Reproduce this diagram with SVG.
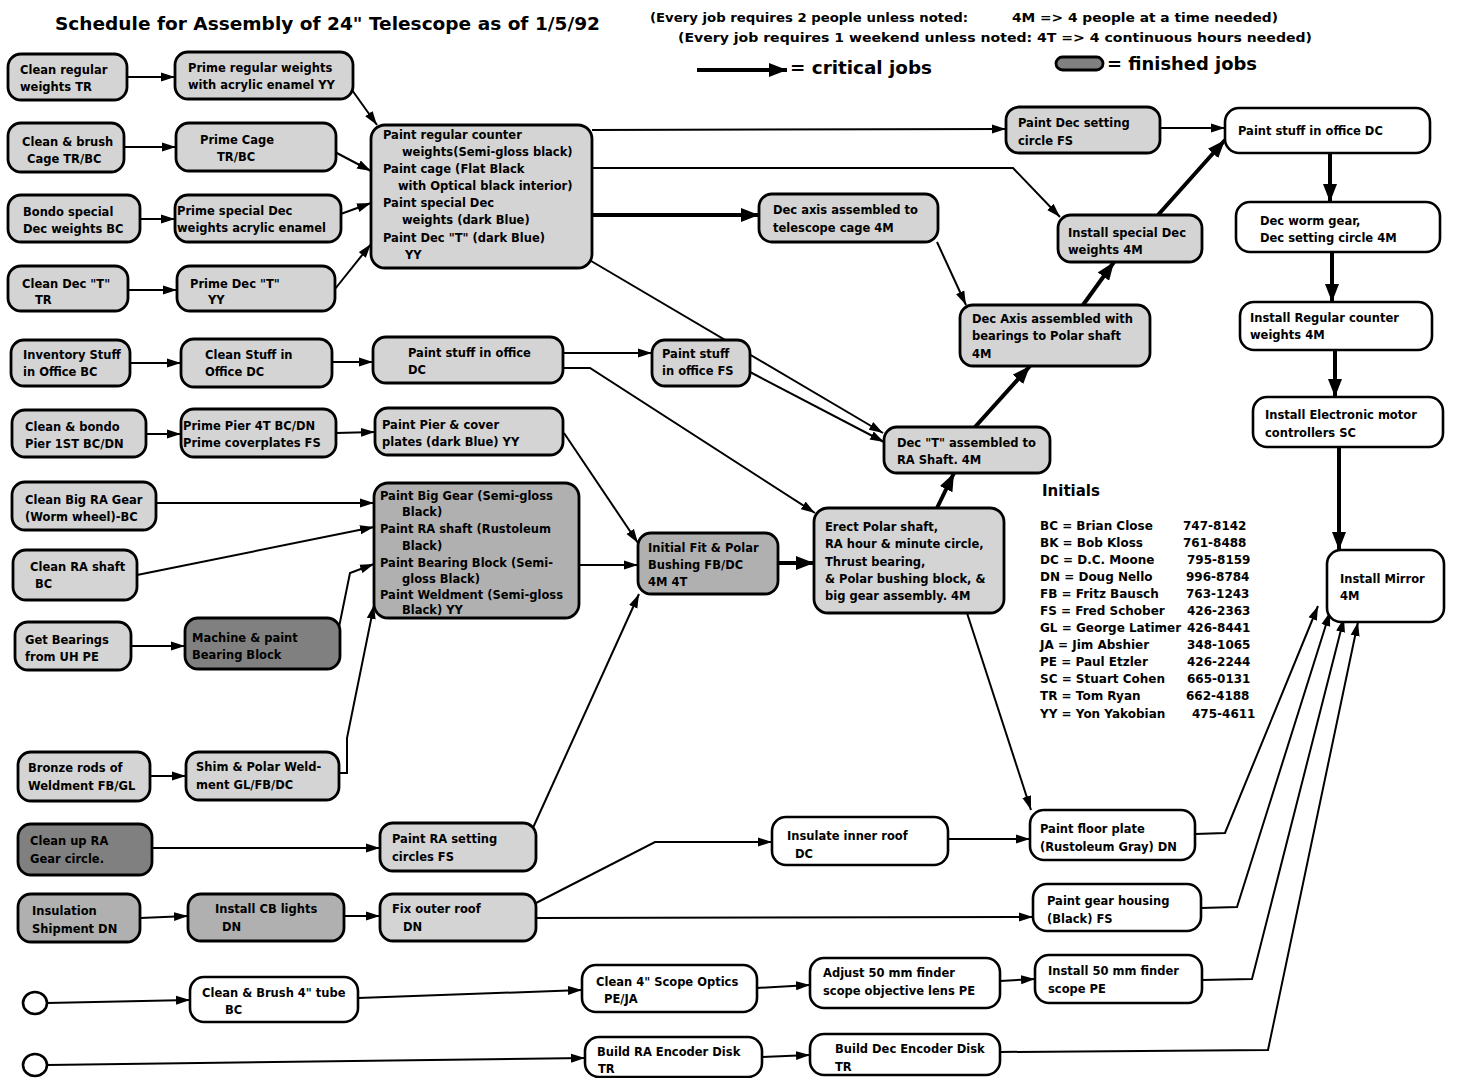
<svg xmlns="http://www.w3.org/2000/svg" width="1463" height="1078" viewBox="0 0 1463 1078">
<style>
.b{fill:#fff;stroke:#000;stroke-width:2.6}
.f{fill:#d4d4d4;stroke:#000;stroke-width:2.8}
.m{fill:#b0b0b0;stroke:#000;stroke-width:2.8}
.d{fill:#808080;stroke:#000;stroke-width:2.8}
text{font-family:"DejaVu Sans","Liberation Sans",sans-serif;font-weight:bold;font-size:11.5px;fill:#000}
.c{fill:none;stroke:#000;stroke-width:2;marker-end:url(#a)}
.k{fill:none;stroke:#000;stroke-width:4;marker-end:url(#ak)}
.h{font-size:12.5px}
.ttl{font-size:17px}
.lg{font-size:17px}
.ini{font-size:12px}
</style>
<defs>
<marker id="a" viewBox="0 0 14 10" refX="14" refY="5" markerWidth="14" markerHeight="10" markerUnits="userSpaceOnUse" orient="auto"><path d="M0,0.5 L14,5 L0,9.5 z" fill="#000"/></marker>
<marker id="ak" viewBox="0 0 18 14" refX="18" refY="7" markerWidth="18" markerHeight="14" markerUnits="userSpaceOnUse" orient="auto"><path d="M0,0 L18,7 L0,14 z" fill="#000"/></marker>
</defs>
<rect width="1463" height="1078" fill="#fff"/>

<g id="header">
<text class="ttl" x="55" y="30" textLength="545" lengthAdjust="spacingAndGlyphs">Schedule for Assembly of 24" Telescope as of 1/5/92</text>
<text class="h" x="650" y="22" textLength="318" lengthAdjust="spacingAndGlyphs">(Every job requires 2 people unless noted:</text>
<text class="h" x="1012" y="22" textLength="266" lengthAdjust="spacingAndGlyphs">4M =&gt; 4 people at a time needed)</text>
<text class="h" x="678" y="42" textLength="634" lengthAdjust="spacingAndGlyphs">(Every job requires 1 weekend unless noted: 4T =&gt; 4 continuous hours needed)</text>
<line x1="697" y1="70" x2="787" y2="70" class="k"/>
<text class="lg" x="790" y="74" textLength="142" lengthAdjust="spacingAndGlyphs">= critical jobs</text>
<rect x="1056" y="57" width="47" height="13" rx="6.5" class="d" stroke-width="2"/>
<text class="lg" x="1107" y="70" textLength="150" lengthAdjust="spacingAndGlyphs">= finished jobs</text>
</g>

<g id="connectors">
<line x1="127" y1="77" x2="175" y2="77" class="c"/>
<line x1="124" y1="147" x2="176" y2="147" class="c"/>
<line x1="140" y1="219" x2="175" y2="219" class="c"/>
<line x1="128" y1="290" x2="177" y2="290" class="c"/>
<line x1="347" y1="83" x2="377" y2="125" class="c"/>
<line x1="333" y1="151" x2="371" y2="171" class="c"/>
<line x1="338" y1="215" x2="371" y2="203" class="c"/>
<line x1="335" y1="289" x2="371" y2="244" class="c"/>
<line x1="592" y1="130" x2="1006" y2="129" class="c"/>
<line x1="1160" y1="128" x2="1225" y2="128" class="c"/>
<path d="M592,168 L1013,168 L1060,217" class="c"/>
<line x1="592" y1="215" x2="759" y2="215" class="k"/>
<line x1="586" y1="258" x2="883" y2="433" class="c"/>
<line x1="937" y1="242" x2="966" y2="305" class="c"/>
<line x1="1083" y1="305" x2="1114" y2="262" class="k"/>
<line x1="1158" y1="215" x2="1225" y2="140" class="k"/>
<line x1="975" y1="427" x2="1030" y2="366" class="k"/>
<line x1="937" y1="508" x2="954" y2="473" class="k"/>
<line x1="1330" y1="153" x2="1330" y2="202" class="k"/>
<line x1="1332" y1="252" x2="1332" y2="302" class="k"/>
<line x1="1335" y1="350" x2="1335" y2="397" class="k"/>
<line x1="1339" y1="447" x2="1339" y2="550" class="k"/>
<line x1="130" y1="363" x2="181" y2="363" class="c"/>
<line x1="332" y1="362" x2="373" y2="362" class="c"/>
<line x1="563" y1="353" x2="652" y2="353" class="c"/>
<path d="M563,368 L590,368 L815,513" class="c"/>
<line x1="750" y1="372" x2="884" y2="442" class="c"/>
<line x1="146" y1="434" x2="181" y2="434" class="c"/>
<line x1="336" y1="433" x2="375" y2="432" class="c"/>
<line x1="564" y1="433" x2="638" y2="543" class="c"/>
<line x1="156" y1="503" x2="374" y2="503" class="c"/>
<line x1="137" y1="575" x2="374" y2="527" class="c"/>
<line x1="131" y1="646" x2="185" y2="646" class="c"/>
<path d="M338,632 L350,573 L374,564" class="c"/>
<path d="M339,773 L347,773 L347,738 L374,605" class="c"/>
<line x1="579" y1="565" x2="638" y2="565" class="c"/>
<line x1="778" y1="563" x2="814" y2="563" class="k"/>
<line x1="532" y1="830" x2="639" y2="594" class="c"/>
<line x1="967" y1="613" x2="1031" y2="810" class="c"/>
<line x1="150" y1="776" x2="186" y2="776" class="c"/>
<line x1="152" y1="848" x2="380" y2="848" class="c"/>
<line x1="140" y1="918" x2="188" y2="916" class="c"/>
<line x1="344" y1="916" x2="380" y2="916" class="c"/>
<path d="M536,903 L655,842 L772,842" class="c"/>
<line x1="536" y1="918" x2="1033" y2="917" class="c"/>
<line x1="948" y1="839" x2="1030" y2="839" class="c"/>
<path d="M1195,834 L1225,833 L1318,606" class="c"/>
<path d="M1201,908 L1237,907 L1330,612" class="c"/>
<path d="M1202,980 L1252,979 L1344,618" class="c"/>
<path d="M1000,1052 L1268,1050 L1358,622" class="c"/>
<line x1="47" y1="1003" x2="190" y2="1000" class="c"/>
<line x1="358" y1="998" x2="582" y2="990" class="c"/>
<line x1="757" y1="988" x2="810" y2="985" class="c"/>
<line x1="1000" y1="981" x2="1035" y2="979" class="c"/>
<line x1="47" y1="1065" x2="585" y2="1058" class="c"/>
<line x1="762" y1="1057" x2="810" y2="1055" class="c"/>
</g>

<g id="n1"><rect x="8" y="54" width="119" height="46" rx="13" class="f"/><text x="20" y="74">Clean regular</text><text x="20" y="91">weights TR</text></g>
<g id="n2"><rect x="175" y="52" width="178" height="47" rx="13" class="f"/><text x="188" y="72">Prime regular weights</text><text x="188" y="89">with acrylic enamel YY</text></g>
<g id="n3"><rect x="8" y="123" width="116" height="49" rx="13" class="f"/><text x="22" y="146">Clean &amp; brush</text><text x="27" y="163">Cage TR/BC</text></g>
<g id="n4"><rect x="176" y="123" width="160" height="48" rx="13" class="f"/><text x="200" y="144">Prime Cage</text><text x="217" y="161">TR/BC</text></g>
<g id="n5"><rect x="8" y="195" width="132" height="47" rx="13" class="f"/><text x="23" y="216">Bondo special</text><text x="23" y="233">Dec weights BC</text></g>
<g id="n6"><rect x="175" y="195" width="166" height="47" rx="13" class="f"/><text x="177" y="215">Prime special Dec</text><text x="177" y="232">weights acrylic enamel</text></g>
<g id="n7"><rect x="8" y="266" width="120" height="45" rx="13" class="f"/><text x="22" y="288">Clean Dec "T"</text><text x="35" y="304">TR</text></g>
<g id="n8"><rect x="177" y="266" width="158" height="45" rx="13" class="f"/><text x="190" y="288">Prime Dec "T"</text><text x="208" y="304">YY</text></g>
<g id="p1"><rect x="371" y="125" width="221" height="143" rx="14" class="f"/>
<text x="383" y="139">Paint regular counter</text><text x="402" y="156">weights(Semi-gloss black)</text>
<text x="383" y="173">Paint cage (Flat Black</text><text x="398" y="190">with Optical black interior)</text>
<text x="383" y="207">Paint special Dec</text><text x="402" y="224">weights (dark Blue)</text>
<text x="383" y="242">Paint Dec "T" (dark Blue)</text><text x="405" y="259">YY</text></g>
<g id="n9"><rect x="11" y="340" width="119" height="46" rx="13" class="f"/><text x="23" y="359">Inventory Stuff</text><text x="23" y="376">in Office BC</text></g>
<g id="n10"><rect x="181" y="339" width="151" height="48" rx="13" class="f"/><text x="205" y="359">Clean Stuff in</text><text x="205" y="376">Office DC</text></g>
<g id="n11"><rect x="373" y="337" width="190" height="46" rx="13" class="f"/><text x="408" y="357">Paint stuff in office</text><text x="408" y="374">DC</text></g>
<g id="n12"><rect x="652" y="340" width="98" height="46" rx="13" class="f"/><text x="662" y="358">Paint stuff</text><text x="662" y="375">in office FS</text></g>
<g id="n13"><rect x="12" y="410" width="134" height="47" rx="13" class="f"/><text x="25" y="431">Clean &amp; bondo</text><text x="25" y="448">Pier 1ST BC/DN</text></g>
<g id="n14"><rect x="181" y="409" width="155" height="48" rx="13" class="f"/><text x="183" y="430">Prime Pier 4T BC/DN</text><text x="183" y="447">Prime coverplates FS</text></g>
<g id="n15"><rect x="375" y="408" width="188" height="47" rx="13" class="f"/><text x="382" y="429">Paint Pier &amp; cover</text><text x="382" y="446">plates (dark Blue) YY</text></g>
<g id="n16"><rect x="12" y="482" width="144" height="48" rx="13" class="f"/><text x="25" y="504">Clean Big RA Gear</text><text x="25" y="521">(Worm wheel)-BC</text></g>
<g id="n17"><rect x="13" y="550" width="124" height="50" rx="13" class="f"/><text x="30" y="571">Clean RA shaft</text><text x="35" y="588">BC</text></g>
<g id="n18"><rect x="15" y="622" width="116" height="48" rx="13" class="f"/><text x="25" y="644">Get Bearings</text><text x="25" y="661">from UH   PE</text></g>
<g id="n19"><rect x="185" y="618" width="155" height="51" rx="13" class="d"/><text x="192" y="642">Machine &amp; paint</text><text x="192" y="659">Bearing Block</text></g>
<g id="p2"><rect x="374" y="483" width="205" height="135" rx="14" class="m"/>
<text x="380" y="500">Paint Big Gear (Semi-gloss</text><text x="402" y="516">Black)</text>
<text x="380" y="533">Paint RA shaft (Rustoleum</text><text x="402" y="550">Black)</text>
<text x="380" y="567">Paint Bearing Block (Semi-</text><text x="402" y="583">gloss Black)</text>
<text x="380" y="599">Paint Weldment (Semi-gloss</text><text x="402" y="614">Black)    YY</text></g>
<g id="n20"><rect x="638" y="533" width="140" height="61" rx="13" class="m"/><text x="648" y="552">Initial Fit &amp; Polar</text><text x="648" y="569">Bushing FB/DC</text><text x="648" y="586">4M 4T</text></g>
<g id="n21"><rect x="814" y="508" width="190" height="105" rx="14" class="f"/><text x="825" y="531">Erect Polar shaft,</text><text x="825" y="548">RA hour &amp; minute circle,</text><text x="825" y="566">Thrust bearing,</text><text x="825" y="583">&amp; Polar bushing block, &amp;</text><text x="825" y="600">big gear assembly. 4M</text></g>
<g id="n22"><rect x="884" y="427" width="166" height="46" rx="13" class="f"/><text x="897" y="447">Dec "T" assembled to</text><text x="897" y="464">RA Shaft. 4M</text></g>
<g id="n23"><rect x="759" y="194" width="179" height="48" rx="13" class="f"/><text x="773" y="214">Dec axis assembled to</text><text x="773" y="232">telescope cage  4M</text></g>
<g id="n24"><rect x="960" y="305" width="190" height="61" rx="13" class="f"/><text x="972" y="323">Dec Axis assembled with</text><text x="972" y="340">bearings to Polar shaft</text><text x="972" y="358">4M</text></g>
<g id="n25"><rect x="1058" y="215" width="144" height="47" rx="13" class="f"/><text x="1068" y="237">Install special Dec</text><text x="1068" y="254">weights 4M</text></g>
<g id="n26"><rect x="1006" y="107" width="154" height="46" rx="13" class="f"/><text x="1018" y="127">Paint Dec setting</text><text x="1018" y="145">circle     FS</text></g>
<g id="n27"><rect x="1225" y="108" width="205" height="45" rx="14" class="b"/><text x="1238" y="135">Paint stuff in office DC</text></g>
<g id="n28"><rect x="1236" y="202" width="204" height="50" rx="14" class="b"/><text x="1260" y="225">Dec worm gear,</text><text x="1260" y="242">Dec setting circle 4M</text></g>
<g id="n29"><rect x="1240" y="302" width="192" height="48" rx="14" class="b"/><text x="1250" y="322">Install Regular counter</text><text x="1250" y="339">weights  4M</text></g>
<g id="n30"><rect x="1253" y="397" width="190" height="50" rx="14" class="b"/><text x="1265" y="419">Install Electronic motor</text><text x="1265" y="437">controllers  SC</text></g>
<g id="n31"><rect x="1327" y="550" width="117" height="72" rx="14" class="b"/><text x="1340" y="583">Install Mirror</text><text x="1340" y="600">4M</text></g>

<g id="initials">
<text x="1042" y="496" style="font-size:15px">Initials</text>
<text class="ini" x="1040" y="530">BC = Brian Close</text><text class="ini" x="1183" y="530">747-8142</text>
<text class="ini" x="1040" y="547">BK = Bob Kloss</text><text class="ini" x="1183" y="547">761-8488</text>
<text class="ini" x="1040" y="564">DC = D.C. Moone</text><text class="ini" x="1187" y="564">795-8159</text>
<text class="ini" x="1040" y="581">DN = Doug Nello</text><text class="ini" x="1186" y="581">996-8784</text>
<text class="ini" x="1040" y="598">FB = Fritz Bausch</text><text class="ini" x="1186" y="598">763-1243</text>
<text class="ini" x="1040" y="615">FS = Fred Schober</text><text class="ini" x="1187" y="615">426-2363</text>
<text class="ini" x="1040" y="632">GL = George Latimer</text><text class="ini" x="1187" y="632">426-8441</text>
<text class="ini" x="1040" y="649">JA = Jim Abshier</text><text class="ini" x="1187" y="649">348-1065</text>
<text class="ini" x="1040" y="666">PE = Paul Etzler</text><text class="ini" x="1187" y="666">426-2244</text>
<text class="ini" x="1040" y="683">SC = Stuart Cohen</text><text class="ini" x="1187" y="683">665-0131</text>
<text class="ini" x="1040" y="700">TR = Tom Ryan</text><text class="ini" x="1186" y="700">662-4188</text>
<text class="ini" x="1040" y="718">YY = Yon Yakobian</text><text class="ini" x="1192" y="718">475-4611</text>
</g>

<g id="n32"><rect x="18" y="752" width="132" height="49" rx="13" class="f"/><text x="28" y="772">Bronze rods of</text><text x="28" y="790">Weldment  FB/GL</text></g>
<g id="n33"><rect x="186" y="752" width="153" height="48" rx="13" class="f"/><text x="196" y="771">Shim &amp; Polar Weld-</text><text x="196" y="789">ment GL/FB/DC</text></g>
<g id="n34"><rect x="18" y="824" width="134" height="51" rx="13" class="d"/><text x="30" y="845">Clean up RA</text><text x="30" y="863">Gear circle.</text></g>
<g id="n35"><rect x="380" y="823" width="156" height="48" rx="13" class="f"/><text x="392" y="843">Paint RA setting</text><text x="392" y="861">circles    FS</text></g>
<g id="n36"><rect x="772" y="817" width="176" height="48" rx="14" class="b"/><text x="787" y="840">Insulate inner roof</text><text x="795" y="858">DC</text></g>
<g id="n37"><rect x="1030" y="810" width="165" height="50" rx="14" class="b"/><text x="1040" y="833">Paint floor plate</text><text x="1040" y="851">(Rustoleum Gray) DN</text></g>
<g id="n38"><rect x="18" y="894" width="122" height="48" rx="13" class="m"/><text x="32" y="915">Insulation</text><text x="32" y="933">Shipment   DN</text></g>
<g id="n39"><rect x="188" y="894" width="156" height="47" rx="13" class="m"/><text x="215" y="913">Install CB lights</text><text x="222" y="931">DN</text></g>
<g id="n40"><rect x="380" y="894" width="156" height="47" rx="13" class="f"/><text x="392" y="913">Fix outer roof</text><text x="403" y="931">DN</text></g>
<g id="n41"><rect x="1033" y="884" width="168" height="47" rx="14" class="b"/><text x="1047" y="905">Paint gear housing</text><text x="1047" y="923">(Black) FS</text></g>
<g id="c1"><ellipse cx="35" cy="1003" rx="12" ry="11" class="b"/></g>
<g id="n42"><rect x="190" y="977" width="168" height="45" rx="14" class="b"/><text x="202" y="997">Clean &amp; Brush 4" tube</text><text x="225" y="1014">BC</text></g>
<g id="n43"><rect x="582" y="965" width="175" height="47" rx="14" class="b"/><text x="596" y="986">Clean 4" Scope Optics</text><text x="604" y="1003">PE/JA</text></g>
<g id="n44"><rect x="810" y="958" width="190" height="50" rx="14" class="b"/><text x="823" y="977">Adjust 50 mm finder</text><text x="823" y="995">scope objective lens PE</text></g>
<g id="n45"><rect x="1035" y="955" width="167" height="48" rx="14" class="b"/><text x="1048" y="975">Install 50 mm finder</text><text x="1048" y="993">scope  PE</text></g>
<g id="c2"><ellipse cx="35" cy="1065" rx="12" ry="11" class="b"/></g>
<g id="n46"><rect x="585" y="1037" width="177" height="40" rx="14" class="b"/><text x="597" y="1056">Build RA Encoder Disk</text><text x="598" y="1073">TR</text></g>
<g id="n47"><rect x="810" y="1034" width="190" height="41" rx="14" class="b"/><text x="835" y="1053">Build Dec Encoder Disk</text><text x="835" y="1071">TR</text></g>
</svg>
